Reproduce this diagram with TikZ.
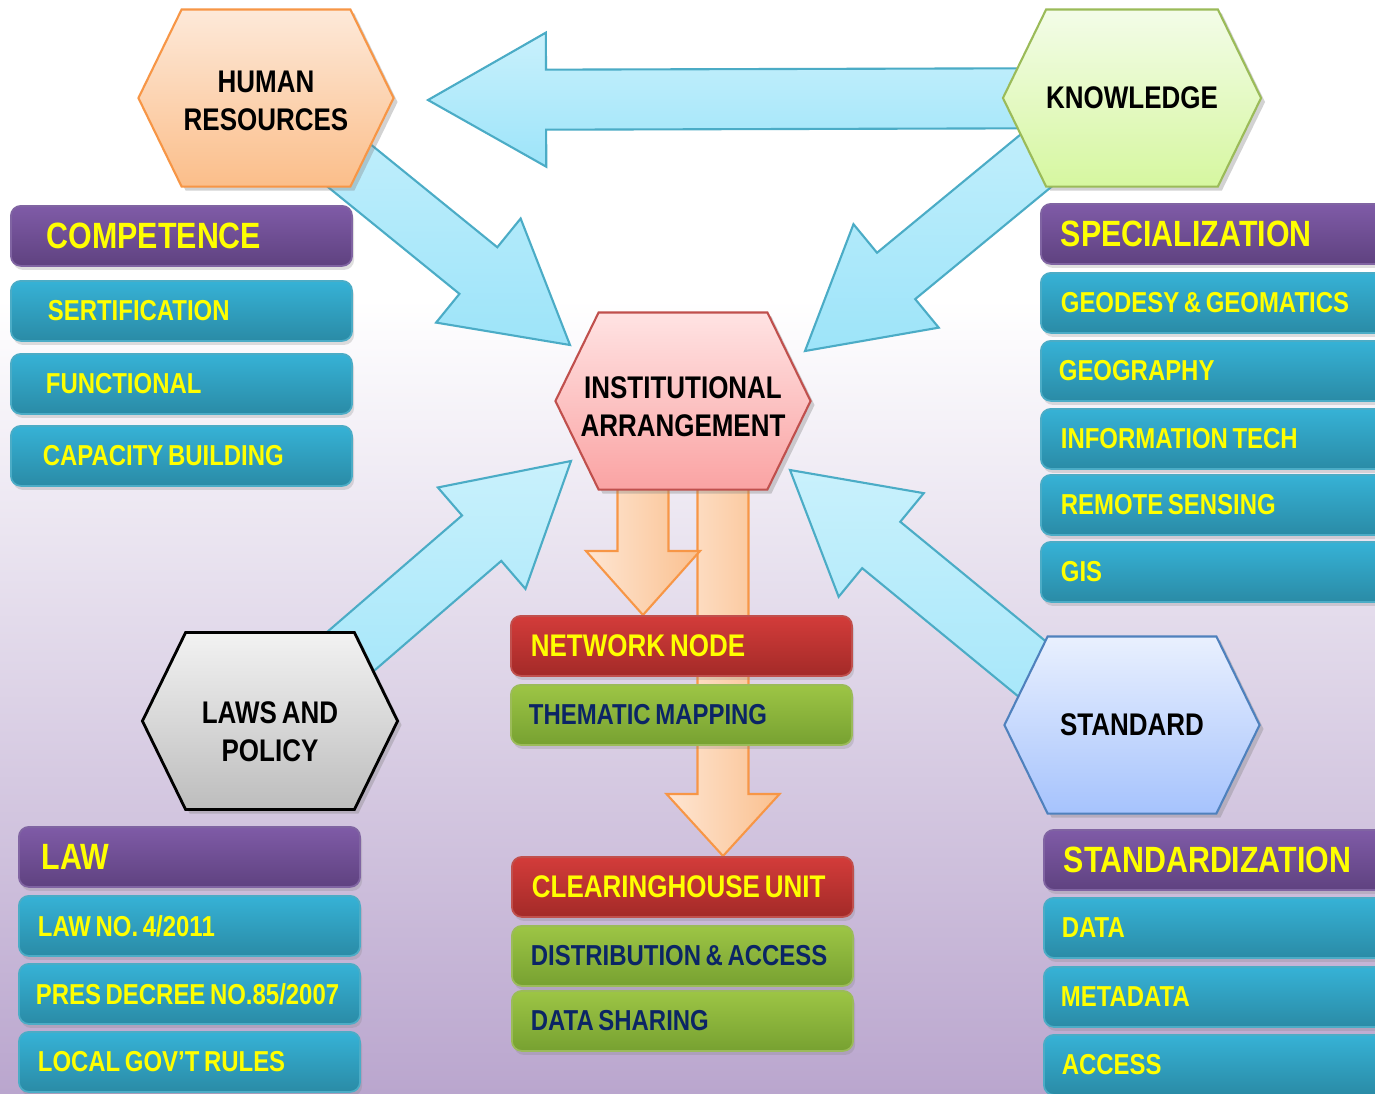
\documentclass[tikz,border=0pt]{standalone}
\usepackage{fontspec}
\setmainfont{Liberation Sans}[FakeStretch=0.83, WordSpace=0.7]
\usetikzlibrary{calc,shapes.symbols,shadows}

\definecolor{bglow}{HTML}{BAA6CE}
\definecolor{arrowtop}{HTML}{C9F1FC}
\definecolor{arrowbot}{HTML}{9DE4F9}
\definecolor{arrowline}{HTML}{4BACC6}
\definecolor{orangeL}{HTML}{FEE6D3}
\definecolor{orangeR}{HTML}{FAC08F}
\definecolor{orangeline}{HTML}{F79646}
\definecolor{hrtop}{HTML}{FDE9D9}\definecolor{hrbot}{HTML}{FBBE8A}\definecolor{hrline}{HTML}{F79646}
\definecolor{kntop}{HTML}{F3FCE8}\definecolor{knbot}{HTML}{D6F7A0}\definecolor{knline}{HTML}{9BBB59}
\definecolor{iatop}{HTML}{FFE3E3}\definecolor{iabot}{HTML}{FAA3A3}\definecolor{ialine}{HTML}{C0504D}
\definecolor{lptop}{HTML}{F2F2F2}\definecolor{lpbot}{HTML}{BDBDBD}
\definecolor{sttop}{HTML}{E9F0FE}\definecolor{stbot}{HTML}{A6C3FD}\definecolor{stline}{HTML}{4F81BD}
\definecolor{purtop}{HTML}{7F5BA7}\definecolor{purbot}{HTML}{5F4280}\definecolor{purline}{HTML}{8064A2}
\definecolor{bluetop}{HTML}{36B2D6}\definecolor{bluebot}{HTML}{2A8BA6}\definecolor{blueline}{HTML}{4BACC6}
\definecolor{redtop}{HTML}{D33C3A}\definecolor{redbot}{HTML}{A32A28}\definecolor{redline}{HTML}{C0504D}
\definecolor{grntop}{HTML}{9DC545}\definecolor{grnbot}{HTML}{77A131}\definecolor{grnline}{HTML}{9BBB59}
\definecolor{yel}{HTML}{FFFF00}
\definecolor{navy}{HTML}{0B2565}

\newcommand\headfnt{\fontsize{10.4}{12}\selectfont\bfseries}
\newcommand\hexfnt{\fontsize{8.9}{10.8}\selectfont\bfseries}
\newcommand\itemfnt{\fontsize{8.2}{10}\selectfont\bfseries}

\newcommand\blockarrow[6]{%
  \coordinate (hb) at ($(#3)!#6!(#2)$);
  \draw[#1] ($(#2)!#4!90:(#3)$) -- ($(hb)!#4!90:(#3)$) -- ($(hb)!#5!90:(#3)$) -- (#3)
    -- ($(hb)!#5!-90:(#3)$) -- ($(hb)!#4!-90:(#3)$) -- ($(#2)!#4!-90:(#3)$) -- cycle;
}

\pgfdeclarelayer{background}
\pgfdeclarelayer{arrows}
\pgfsetlayers{background,arrows,main}

\tikzset{
  hexa/.style={signal, signal to=west and east, signal pointer angle=128,
    minimum width=2.55cm, minimum height=1.77cm, inner sep=0pt, align=center,
    font=\hexfnt, line width=0.6pt,
    drop shadow={opacity=0.35, shadow xshift=0.04cm, shadow yshift=-0.04cm}},
  hrhex/.style={top color=hrtop, bottom color=hrbot, draw=hrline, text height=0.65cm},
  knhex/.style={top color=kntop, bottom color=knbot, draw=knline},
  iahex/.style={top color=iatop, bottom color=iabot, draw=ialine, inner xsep=-0.25cm, text height=0.71cm},
  lphex/.style={top color=lptop, bottom color=lpbot, draw=black, line width=0.8pt, text height=0.81cm},
  sthex/.style={top color=sttop, bottom color=stbot, draw=stline},
  box/.style={rectangle, rounded corners=0.1cm, anchor=north west, minimum height=0.6cm,
    inner xsep=0pt, text width=3.41cm, align=left, line width=0.5pt, font=\itemfnt, text=yel,
    drop shadow={opacity=0.25, shadow xshift=0.02cm, shadow yshift=-0.04cm}},
  wide/.style={text width=3.6cm},
  indent/.style={execute at begin node={\spaceskip=0pt\xspaceskip=0pt\hspace*{#1}}},
  headbox/.style={box, top color=purtop, bottom color=purbot, draw=purline, font=\headfnt},
  bluebox/.style={box, top color=bluetop, bottom color=bluebot, draw=blueline},
  redbox/.style={box, top color=redtop, bottom color=redbot, draw=redline, font=\hexfnt},
  greenbox/.style={box, top color=grntop, bottom color=grnbot, draw=grnline, text=navy},
  bluearrow/.style={top color=arrowtop, bottom color=arrowbot, draw=arrowline, line width=0.6pt},
  orangearrow/.style={left color=orangeL, right color=orangeR, draw=orangeline, line width=0.6pt}
}

\begin{document}
\begin{tikzpicture}[x=0.01cm, y=-0.01cm]
  \useasboundingbox (0,0) rectangle (1375,1093);
  \clip (0,0) rectangle (1375,1093);
  \begin{pgfonlayer}{background}
    \fill[white] (0,0) rectangle (1375,300);
    \shade[top color=white, bottom color=bglow] (0,299) rectangle (1375,1093);
  \end{pgfonlayer}

  \node[hexa, hrhex] (hr) at (266,98) {HUMAN\\RESOURCES};
  \node[hexa, knhex] (kn) at (1132,98) {KNOWLEDGE};
  \node[hexa, iahex] (ia) at (683,401) {INSTITUTIONAL\\ARRANGEMENT};
  \node[hexa, lphex] (lp) at (270,721) {LAWS AND\\POLICY};
  \node[hexa, sthex] (st) at (1132,725) {STANDARD};

  \node[headbox, indent=0.36cm] (comp) at (10,205) {COMPETENCE};
  \node[bluebox, indent=0.37cm] (sert) at (10,280) {SERTIFICATION};
  \node[bluebox, indent=0.35cm] (func) at (10,353) {FUNCTIONAL};
  \node[bluebox, indent=0.32cm] (capb) at (10,425) {CAPACITY BUILDING};

  \node[headbox, wide, indent=0.2cm] (spec) at (1040,203) {SPECIALIZATION};
  \node[bluebox, wide, indent=0.2cm] (geod) at (1040,272) {GEODESY \& GEOMATICS};
  \node[bluebox, wide, indent=0.18cm] (geog) at (1040,340) {GEOGRAPHY};
  \node[bluebox, wide, indent=0.2cm] (itec) at (1040,408) {INFORMATION TECH};
  \node[bluebox, wide, indent=0.2cm] (rems) at (1040,474) {REMOTE SENSING};
  \node[bluebox, wide, indent=0.2cm] (gis) at (1040,541) {GIS};

  \node[headbox, indent=0.23cm] (law) at (18,826) {LAW};
  \node[bluebox, indent=0.19cm] (lawno) at (18,895) {LAW NO. 4/2011};
  \node[bluebox, indent=0.17cm] (decree) at (18,963) {PRES DECREE NO.85/2007};
  \node[bluebox, indent=0.19cm] (local) at (18,1031) {LOCAL GOV’T RULES};

  \node[headbox, wide, indent=0.2cm] (stdz) at (1043,829) {STANDARDIZATION};
  \node[bluebox, wide, indent=0.18cm] (data) at (1043,897) {DATA};
  \node[bluebox, wide, indent=0.17cm] (meta) at (1043,966) {METADATA};
  \node[bluebox, wide, indent=0.18cm] (acc) at (1043,1034) {ACCESS};

  \node[redbox, indent=0.2cm] (nn) at (510,615) {NETWORK NODE};
  \node[greenbox, indent=0.18cm] (tm) at (510,684) {THEMATIC MAPPING};
  \node[redbox, indent=0.2cm] (ch) at (511,856) {CLEARINGHOUSE UNIT};
  \node[greenbox, indent=0.19cm] (dist) at (511,925) {DISTRIBUTION \& ACCESS};
  \node[greenbox, indent=0.19cm] (share) at (511,990) {DATA SHARING};

  \coordinate (knTail) at ([xshift=-0.2cm]kn.center);
  \coordinate (stTail) at ([yshift=-0.26cm]st.center);
  \coordinate (toHR) at (428,100);
  \coordinate (hrToIA) at (570,345);
  \coordinate (knToIA) at (805,351);
  \coordinate (lpToIA) at (571,461);
  \coordinate (stToIA) at (790,470);
  \coordinate (nnTail) at ([xshift=-0.4cm,yshift=0.2cm]ia.south);
  \coordinate (nnTip) at (nnTail |- nn.north);
  \coordinate (chTail) at ([xshift=0.4cm,yshift=0.2cm]ia.south);
  \coordinate (chTip) at (chTail |- ch.north);

  \begin{pgfonlayer}{arrows}
    \blockarrow{bluearrow}{kn.center}{toHR}{0.3cm}{0.67cm}{1.18cm}
    \blockarrow{bluearrow}{hr.center}{hrToIA}{0.3cm}{0.67cm}{1.18cm}
    \blockarrow{bluearrow}{knTail}{knToIA}{0.3cm}{0.67cm}{1.18cm}
    \blockarrow{bluearrow}{lp.center}{lpToIA}{0.3cm}{0.67cm}{1.18cm}
    \blockarrow{bluearrow}{stTail}{stToIA}{0.3cm}{0.67cm}{1.18cm}
    \blockarrow{orangearrow}{chTail}{chTip}{0.255cm}{0.565cm}{0.62cm}
    \blockarrow{orangearrow}{nnTail}{nnTip}{0.255cm}{0.57cm}{0.64cm}
  \end{pgfonlayer}
\end{tikzpicture}
\end{document}
